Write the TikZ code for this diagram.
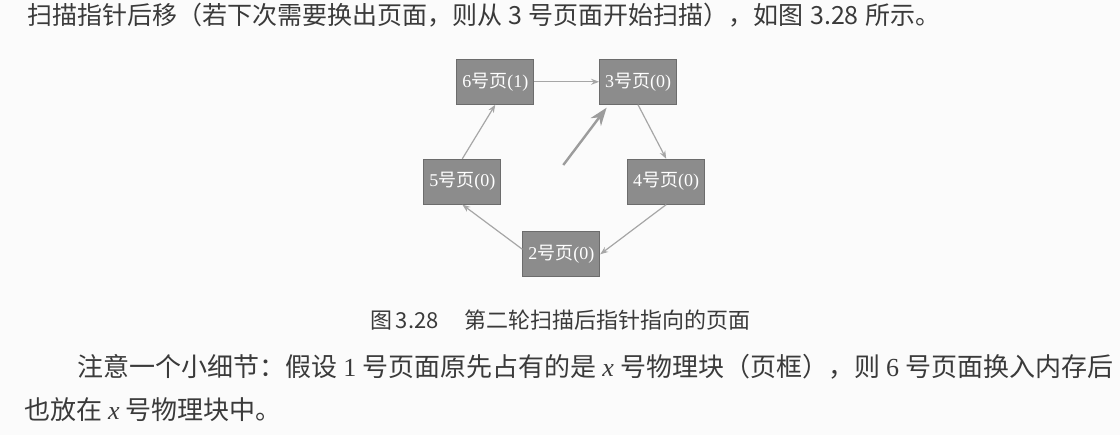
\documentclass[tikz,border=0pt]{standalone}
\usepackage{fontspec}
\setmainfont{Liberation Serif}
\newfontfamily\cjk{Noto Sans CJK SC}
\usetikzlibrary{calc,arrows.meta}

\definecolor{paper}{HTML}{FBFBFB}
\definecolor{inkgray}{HTML}{3A3A3A}
\definecolor{boxfill}{HTML}{8C8C8C}
\definecolor{boxedge}{HTML}{6C6C6C}
\definecolor{linkgray}{HTML}{A6A6A6}
\definecolor{ptrgray}{HTML}{9C9C9C}

% label of one page box: number, "号页", reference bit
\newcommand{\pagelabel}[2]{{\rmfamily #1}{\cjk 号页}{\rmfamily (#2)}}

\begin{document}
\begin{tikzpicture}[x=1pt,y=-1pt,
  page/.style={draw=boxedge, line width=0.8pt, fill=boxfill,
    minimum width=77pt, minimum height=45pt, inner sep=0pt,
    text=white, font=\fontsize{18}{18}\selectfont},
  link/.style={draw=linkgray, line width=1.2pt,
    -{Stealth[length=8pt,width=6pt]}},
  pointer/.style={draw=ptrgray, line width=2.4pt,
    -{Stealth[length=18pt,width=13pt]}},
  body/.style={anchor=base west, inner sep=0pt, text=inkgray,
    font=\cjk\fontsize{25}{25}\selectfont},
  parabody/.style={body, font=\cjk\fontsize{26}{26}\selectfont},
  caption/.style={anchor=base west, inner sep=0pt, text=inkgray,
    font=\cjk\fontsize{22}{22}\selectfont}]

\useasboundingbox (0,0) rectangle (1120,435);
\fill[paper] (0,0) rectangle (1120,435);

% running text above the figure
\node[body] (line1) at (27,25)
  {\makebox[913pt][s]{扫描指针后移（若下次需要换出页面，则从 3 号页面开始扫描），如图 3.28 所示。}};

% the circular page list
\node[page] (n6) at (495.3,81.8) {\pagelabel{6}{1}};
\node[page] (n3) at (638.0,81.8) {\pagelabel{3}{0}};
\node[page] (n5) at (462.3,181.7) {\pagelabel{5}{0}};
\node[page] (n4) at (666.2,181.7) {\pagelabel{4}{0}};
\node[page] (n2) at (561.3,254.3) {\pagelabel{2}{0}};

\draw[link] (n6.east) -- (n3.west);
\draw[link] (n3.south) -- (n4.north);
\draw[link] (n4.south) -- (n2.east);
\draw[link] ($(n2.west)+(0,-5)$) -- (n5.south);
\draw[link] (n5.north) -- (n6.south);

% clock hand
\coordinate (hand) at (563.3,165);
\draw[pointer] (hand) -- ($(n3.south west)+(7.5,3)$);

% caption
\node[caption] (cap) at (370,329)
  {图\,3.28\hspace{26pt}第二轮扫描后指针指向的页面};

% paragraph below the figure
\node[parabody] (para1) at (77,377)
  {\makebox[1036pt][s]{注意一个小细节：假设 {\rmfamily 1} 号页面原先占有的是 {\rmfamily\itshape x} 号物理块（页框），则 {\rmfamily 6} 号页面换入内存后}};
\node[parabody] (para2) at (24,420)
  {也放在 {\rmfamily\itshape x} 号物理块中。};
\end{tikzpicture}
\end{document}
